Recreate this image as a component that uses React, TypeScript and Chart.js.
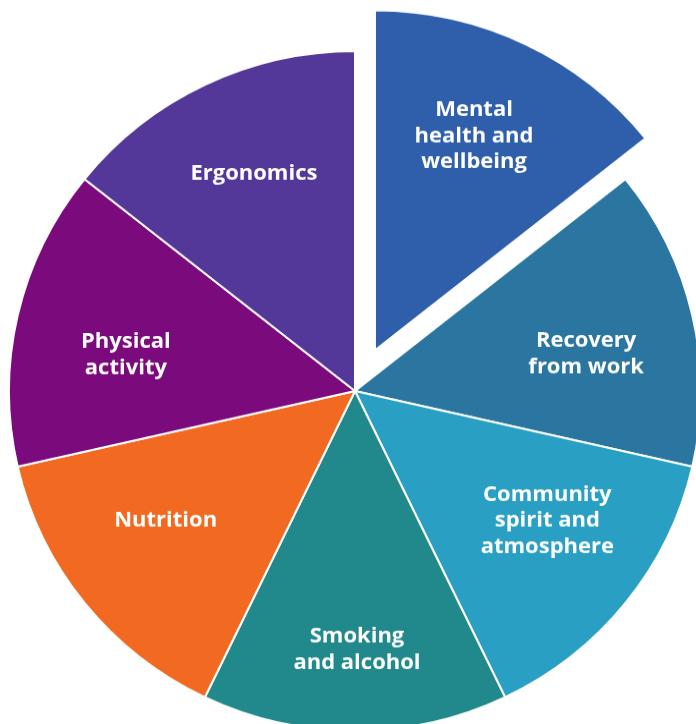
import React, { useEffect, useRef } from "react";
import { Chart, registerables } from "chart.js";

Chart.register(...registerables);

const categories: string[][] = [
  ["Mental", "health and", "wellbeing"],
  ["Recovery", "from work"],
  ["Community", "spirit and", "atmosphere"],
  ["Smoking", "and alcohol"],
  ["Nutrition"],
  ["Physical", "activity"],
  ["Ergonomics"],
];

const values: number[] = [1, 1, 1, 1, 1, 1, 1];

const colors: string[] = [
  "#2F5FAB",
  "#2A76A0",
  "#29A0C3",
  "#21898B",
  "#F26A22",
  "#7B0A7D",
  "#543899",
];

// styling: small per-label nudges (px) applied after radial placement
const labelNudges: [number, number][] = [
  [-6, 0],
  [-5, 16],
  [3, -19],
  [2, 21],
  [0, -19],
  [7, 17],
  [4, -3],
];

const RADIUS = 346;
const EXPLODE = 46;
const LABEL_FRAC = 0.7;

const explodePlugin = {
  id: "explodeFirst",
  afterDatasetsUpdate(chart: any) {
    const el = chart.getDatasetMeta(0).data[0];
    if (!el) return;
    const mid = (el.startAngle + el.endAngle) / 2;
    el.x += Math.cos(mid) * EXPLODE;
    el.y += Math.sin(mid) * EXPLODE;
  },
};

const labelPlugin = {
  id: "sliceLabels",
  afterDatasetsDraw(chart: any) {
    const ctx = chart.ctx;
    const meta = chart.getDatasetMeta(0);
    ctx.save();
    ctx.fillStyle = "#ffffff";
    ctx.font = 'bold 22px "Open Sans"';
    ctx.textAlign = "center";
    ctx.textBaseline = "middle";
    const lineH = 26.6;
    meta.data.forEach((el: any, i: number) => {
      const mid = (el.startAngle + el.endAngle) / 2;
      const r = el.outerRadius * LABEL_FRAC;
      const n = labelNudges[i] || [0, 0];
      const cx = el.x + Math.cos(mid) * r + n[0];
      const cy = el.y + Math.sin(mid) * r + n[1];
      const lines = categories[i];
      const y0 = cy - ((lines.length - 1) / 2) * lineH;
      lines.forEach((line, j) => ctx.fillText(line, cx, y0 + j * lineH));
    });
    ctx.restore();
  },
};

export default function App() {
  const ref = useRef<HTMLCanvasElement | null>(null);

  useEffect(() => {
    if (!ref.current) return;
    const chart = new Chart(ref.current, {
      type: "pie",
      data: {
        labels: categories.map((l) => l.join(" ")),
        datasets: [
          {
            data: values,
            backgroundColor: colors,
            borderColor: "#ffffff",
            borderWidth: 2,
            radius: RADIUS,
          } as any,
        ],
      },
      options: {
        responsive: false,
        maintainAspectRatio: false,
        animation: false,
        events: [],
        radius: RADIUS,
        layout: { padding: 0 },
        plugins: {
          legend: { display: false },
          tooltip: { enabled: false },
        },
      } as any,
      plugins: [explodePlugin, labelPlugin],
    });
    return () => chart.destroy();
  }, []);

  return (
    <div
      style={{
        position: "fixed",
        left: 0,
        top: 0,
        width: 696,
        height: 724,
        overflow: "hidden",
        background: "#ffffff",
      }}
    >
      <canvas
        ref={ref}
        width={710}
        height={796}
        style={{ display: "block", width: "710px", height: "782px" }}
      />
    </div>
  );
}
